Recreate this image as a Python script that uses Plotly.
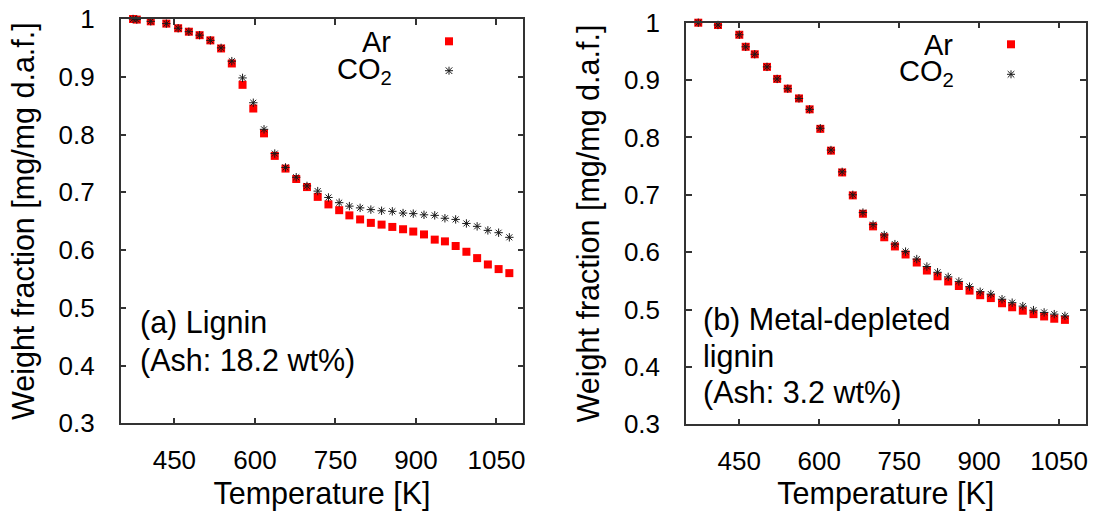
import plotly.graph_objects as go

W, H = 1101, 511

# ---------------- data ----------------
# (a) Lignin
temp_a = [373, 380, 406, 435, 457, 477, 497, 517, 537, 557, 577, 597, 617, 637, 657, 677,
          697, 717, 737, 757, 776, 796, 816, 836, 856, 876, 895, 915, 935, 954, 974, 994,
          1014, 1034, 1054, 1074]
ar_a = [1.000, 0.999, 0.996, 0.992, 0.984, 0.978, 0.972, 0.963, 0.949, 0.923, 0.886, 0.845,
        0.802, 0.763, 0.741, 0.723, 0.709, 0.692, 0.679, 0.669, 0.660, 0.653, 0.647, 0.644,
        0.640, 0.636, 0.632, 0.627, 0.618, 0.615, 0.607, 0.597, 0.586, 0.575, 0.567, 0.560]
co2_a = [1.000, 0.999, 0.996, 0.992, 0.984, 0.978, 0.972, 0.963, 0.950, 0.927, 0.898, 0.855,
         0.809, 0.767, 0.743, 0.726, 0.711, 0.702, 0.691, 0.682, 0.676, 0.673, 0.670, 0.668,
         0.667, 0.664, 0.663, 0.661, 0.660, 0.655, 0.653, 0.646, 0.641, 0.634, 0.630, 0.622]

# (b) Metal-depleted lignin
temp_b = [373, 410, 450, 462, 479, 502, 521, 541, 562, 582, 602, 622, 643, 663, 682, 701,
          722, 742, 762, 783, 802, 822, 842, 862, 882, 902, 922, 943, 962, 982, 1002, 1022,
          1041, 1061]
ar_b = [1.000, 0.996, 0.979, 0.958, 0.945, 0.923, 0.902, 0.885, 0.868, 0.849, 0.815, 0.777,
        0.739, 0.699, 0.667, 0.645, 0.626, 0.610, 0.596, 0.582, 0.568, 0.558, 0.549, 0.541,
        0.533, 0.525, 0.520, 0.511, 0.504, 0.498, 0.492, 0.488, 0.484, 0.482]
co2_b = [1.000, 0.996, 0.979, 0.958, 0.945, 0.923, 0.902, 0.885, 0.868, 0.849, 0.816, 0.778,
         0.740, 0.700, 0.669, 0.648, 0.630, 0.614, 0.601, 0.588, 0.575, 0.565, 0.557, 0.549,
         0.540, 0.531, 0.527, 0.518, 0.512, 0.506, 0.499, 0.495, 0.492, 0.489]

x_ticks = [450, 600, 750, 900, 1050]
x_tick_labels = ["450", "600", "750", "900", "1050"]
y_ticks = [0.3, 0.4, 0.5, 0.6, 0.7, 0.8, 0.9, 1.0]
y_tick_labels = ["0.3", "0.4", "0.5", "0.6", "0.7", "0.8", "0.9", "1"]

series_names = ["Ar", "CO<sub>2</sub>"]
panel_a_lines = ["(a) Lignin", "(Ash: 18.2 wt%)"]
panel_b_lines = ["(b) Metal-depleted", "lignin", "(Ash: 3.2 wt%)"]
x_title = "Temperature [K]"
y_title = "Weight fraction [mg/mg d.a.f.]"

# ---------------- styling ----------------
FONT = "Liberation Sans, Arial, Helvetica, sans-serif"
RED = "#ff0000"
STAR = "#1a1a1a"


def px(x):
    return x / W


def py(y):
    return 1 - y / H


fig = go.Figure()

panels = [
    dict(t=temp_a, ar=ar_a, co=co2_a, xa="x", ya="y"),
    dict(t=temp_b, ar=ar_b, co=co2_b, xa="x2", ya="y2"),
]
for p in panels:
    fig.add_trace(go.Scatter(
        x=p["t"], y=p["ar"], mode="markers", name="Ar", xaxis=p["xa"], yaxis=p["ya"],
        showlegend=False, cliponaxis=False,
        marker=dict(symbol="square", size=8, color=RED, line=dict(width=0))))
    fig.add_trace(go.Scatter(
        x=p["t"], y=p["co"], mode="markers", name="CO<sub>2</sub>", xaxis=p["xa"], yaxis=p["ya"],
        showlegend=False, cliponaxis=False,
        marker=dict(symbol="asterisk-open", size=7, color=STAR,
                    line=dict(width=1, color=STAR))))

axis_common = dict(
    showline=True, linecolor="#333333", linewidth=1.5, mirror="ticks",
    ticks="inside", ticklen=6, tickwidth=1.5, tickcolor="#333333",
    showgrid=False, zeroline=False, automargin=False,
    tickfont=dict(family=FONT, size=26, color="black"),
    title_font=dict(family=FONT, size=30.5, color="black"),
)

dom_a_x = [px(120.7), px(523.3)]
dom_a_y = [py(423.3), py(19.0)]
dom_b_x = [px(686.0), px(1085.7)]
dom_b_y = [py(424.3), py(22.7)]

fig.update_layout(
    width=W, height=H,
    margin=dict(l=0, r=0, t=0, b=0, autoexpand=False),
    paper_bgcolor="white", plot_bgcolor="white",
    font=dict(family=FONT, color="black"),
    showlegend=False,
    xaxis=dict(axis_common, domain=dom_a_x, range=[350, 1100], anchor="y",
               tickvals=x_ticks, ticktext=x_tick_labels, ticklabelstandoff=13,
               title=dict(text=x_title, standoff=16)),
    yaxis=dict(axis_common, domain=dom_a_y, range=[0.3, 1.0], anchor="x",
               tickvals=y_ticks, ticktext=y_tick_labels, ticklabelstandoff=19,
               title=dict(text=y_title, standoff=15)),
    xaxis2=dict(axis_common, domain=dom_b_x, range=[350, 1100], anchor="y2",
                tickvals=x_ticks, ticktext=x_tick_labels, ticklabelstandoff=13,
                title=dict(text=x_title, standoff=16)),
    yaxis2=dict(axis_common, domain=dom_b_y, range=[0.3, 1.0], anchor="x2",
                tickvals=y_ticks, ticktext=y_tick_labels, ticklabelstandoff=19,
                title=dict(text=y_title, standoff=15)),
)

# legend keys (gnuplot style: label on the left, sample symbol on the right)
shapes = []
annots = []
legend_spots = [  # (text right edge, key x, Ar key y, CO2 key y, Ar baseline, CO baseline)
    (392.7, 449.0, 41.3, 70.7, 51.7, 77.3),
    (955.0, 1011.0, 44.3, 74.3, 54.0, 80.0),
]
for tx, kx, ky_ar, ky_co, b_ar, b_co in legend_spots:
    shapes.append(dict(type="rect", xref="paper", yref="paper",
                       xsizemode="pixel", ysizemode="pixel",
                       xanchor=px(kx), yanchor=py(ky_ar),
                       x0=-4, x1=4, y0=-4, y1=4,
                       fillcolor=RED, line=dict(width=0)))
    shapes.append(dict(type="path", xref="paper", yref="paper",
                       xsizemode="pixel", ysizemode="pixel",
                       xanchor=px(kx), yanchor=py(ky_co),
                       path="M-3.3,-3.3L3.3,3.3M-3.3,3.3L3.3,-3.3M0,-4L0,4M-4,0L4,0",
                       line=dict(width=1, color=STAR)))
    annots.append(dict(text=series_names[0], x=px(tx), y=py(b_ar - 27.2),
                       xref="paper", yref="paper", xanchor="right", yanchor="top",
                       height=28, valign="top",
                       showarrow=False, font=dict(family=FONT, size=29, color="black")))
    annots.append(dict(text=series_names[1], x=px(tx + 1), y=py(b_co - 22.6),
                       xref="paper", yref="paper", xanchor="right", yanchor="top",
                       height=32, valign="bottom",
                       showarrow=False, font=dict(family=FONT, size=29, color="black")))

# panel labels, one annotation per line
for lines, x0, baselines in [(panel_a_lines, 138, [331.3, 369.3]),
                             (panel_b_lines, 701, [329.0, 365.3, 401.7])]:
    for line, b in zip(lines, baselines):
        annots.append(dict(text=line, x=px(x0), y=py(b - 28.6), xref="paper", yref="paper",
                           xanchor="left", yanchor="top", align="left", showarrow=False,
                           font=dict(family=FONT, size=30.5, color="black")))

fig.update_layout(shapes=shapes, annotations=annots)

fig.write_html("out.html")
